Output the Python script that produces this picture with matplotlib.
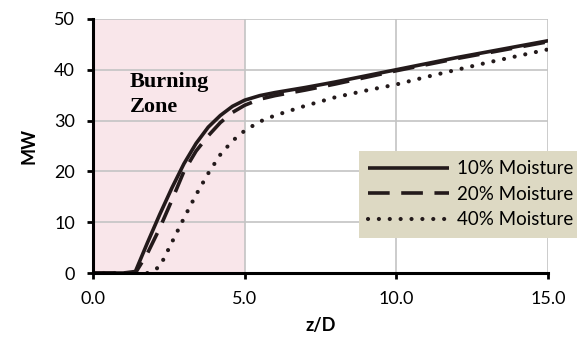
import matplotlib
matplotlib.use("Agg")
import matplotlib.pyplot as plt

z_d = [0, 1.0, 1.4, 1.8, 2.2, 2.6, 3.0, 3.4, 3.8, 4.2, 4.6, 5.0, 5.5, 6.0,
       7.0, 8.0, 9.0, 10.0, 11.0, 12.0, 13.0, 14.0, 15.0]
mw_10 = [0, 0, 0.3, 6.0, 11.5, 16.7, 21.5, 25.5, 28.7, 31.0, 32.8, 34.0, 34.9, 35.5,
         36.5, 37.6, 38.8, 40.0, 41.2, 42.4, 43.5, 44.6, 45.7]
mw_20 = [0, 0, 0, 3.9, 8.8, 14.3, 20.0, 24.0, 27.0, 29.6, 31.6, 33.0, 34.2, 34.9,
         36.0, 37.2, 38.5, 39.8, 41.0, 42.2, 43.3, 44.4, 45.5]
mw_40 = [0, 0, 0, 0, 1.2, 6.0, 10.8, 15.4, 19.6, 23.3, 26.0, 28.0, 29.8, 31.0,
         32.9, 34.6, 35.9, 37.1, 38.6, 40.0, 41.4, 42.7, 44.0]
labels = ["10% Moisture", "20% Moisture", "40% Moisture"]

plt.rcParams['font.family'] = ['Lato', 'DejaVu Sans']

fig = plt.figure(figsize=(5.77, 3.43), dpi=100)
ax = fig.add_axes([0.161, 0.204, 0.789, 0.741])

col = '#231a1b'
ax.axvspan(0, 5, color='#f9e6ea', zorder=0.2, lw=0)
ax.plot(z_d, mw_10, color=col, lw=2.6, label=labels[0], solid_capstyle='butt')
ax.plot(z_d, mw_20, color=col, lw=2.6, ls=(0, (6, 3.2)), label=labels[1])
ax.plot(z_d, mw_40, color=col, lw=3.0, ls=(0, (0.01, 2.6)),
        dash_capstyle='round', label=labels[2])

ax.set_xlim(0, 15)
ax.set_ylim(0, 50)
ax.set_xticks([0, 5, 10, 15])
ax.set_xticklabels(["0.0", "5.0", "10.0", "15.0"])
ax.set_yticks([0, 10, 20, 30, 40, 50])
ax.set_axisbelow(True)
ax.grid(True, color='#c4c4c4', lw=1.2)

for s in ['top', 'right']:
    ax.spines[s].set_visible(False)
for s in ['left', 'bottom']:
    ax.spines[s].set_linewidth(2.2)
    ax.spines[s].set_color('black')
    ax.spines[s].set_zorder(5)
ax.tick_params(length=4, width=2, direction='out', labelsize=13)
ax.tick_params(axis='x', pad=9)
ax.tick_params(axis='y', pad=9)

ax.set_xlabel("z/D", fontsize=13, fontweight='bold', labelpad=7)
ax.set_ylabel("MW", fontsize=13, fontweight='bold', labelpad=12)

ax.text(1.22, 36.5, "Burning", family='Liberation Serif', fontweight='bold',
        fontsize=16, va='baseline', ha='left')
ax.text(1.22, 31.7, "Zone", family='Liberation Serif', fontweight='bold',
        fontsize=16, va='baseline', ha='left')

leg = ax.legend(loc='upper right', bbox_to_anchor=(1.075, 0.48), borderaxespad=0,
                handlelength=4.3, fontsize=13.5, frameon=True, fancybox=False,
                facecolor='#ddd9c3', edgecolor='none', framealpha=1,
                handletextpad=0.4, labelspacing=0.45, borderpad=0.5)

fig.savefig("out.png", dpi=100)
